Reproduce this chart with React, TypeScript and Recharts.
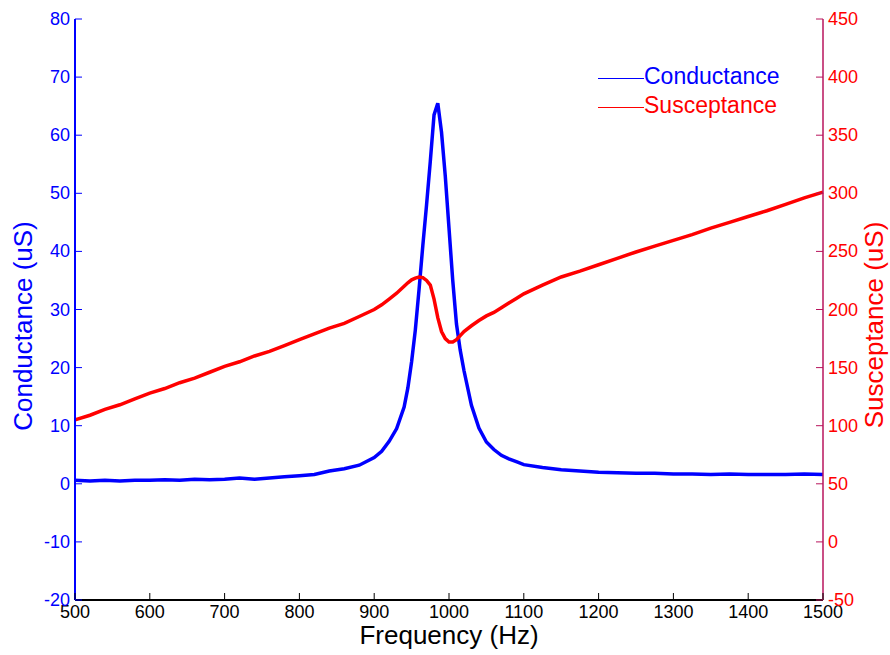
import React from 'react';
import { LineChart, Line, XAxis, YAxis, Legend, Label } from 'recharts';

// frequency points (Hz), denser around the resonance
const frequency = [
  500, 520, 540, 560, 580, 600, 620, 640, 660, 680, 700, 720, 740, 760, 780, 800, 820, 840, 860, 880, 900,
  910, 920, 930, 940,
  945, 950, 955, 960, 965, 970, 975, 980, 985, 990, 995, 1000, 1005, 1010, 1015, 1020,
  1030, 1040, 1050, 1060, 1070, 1080, 1090, 1100,
  1125, 1150, 1175, 1200, 1225, 1250, 1275, 1300, 1325, 1350, 1375, 1400, 1425, 1450, 1475, 1500,
];

const conductance = [
  0.6, 0.5, 0.6, 0.5, 0.6, 0.6, 0.7, 0.6, 0.8, 0.7, 0.8, 1.0, 0.8, 1.0, 1.2, 1.4, 1.6, 2.2, 2.6, 3.2, 4.5,
  5.6, 7.3, 9.5, 13.2,
  16.5, 21, 26.5, 33.5, 41, 48, 55.5, 63.5, 65.5, 60.5, 53, 44, 35, 27.5, 23, 19.5,
  13.5, 9.6, 7.2, 5.9, 4.9, 4.3, 3.8, 3.3,
  2.8, 2.4, 2.2, 2.0, 1.9, 1.8, 1.8, 1.7, 1.7, 1.6, 1.7, 1.6, 1.6, 1.6, 1.7, 1.6,
];

const susceptance = [
  105, 109, 114, 118, 123, 128, 132, 137, 141, 146, 151, 155, 160, 164, 169, 174, 179, 184, 188, 194, 200,
  204, 209, 214, 220,
  223, 225.5, 227, 228, 227.5, 225, 221, 209, 193, 181, 175, 172, 172, 174, 177.5, 181,
  186, 190.5, 194.5, 197.5, 201.5, 205.5, 209.5, 213.5,
  221, 228, 233, 238.5, 244, 249.5, 254.5, 259.5, 264.5, 270, 275, 280, 285, 290.5, 296, 301,
];

const xTicks = [500, 600, 700, 800, 900, 1000, 1100, 1200, 1300, 1400, 1500];
const leftTicks = [-20, -10, 0, 10, 20, 30, 40, 50, 60, 70, 80];
const rightTicks = [-50, 0, 50, 100, 150, 200, 250, 300, 350, 400, 450];

const seriesNames = ['Conductance', 'Susceptance'];

const BLUE = '#0000ff';
const RED = '#ff0000';
const RIGHT_AXIS = '#b8145c';
const FONT = '"Liberation Sans", Arial, sans-serif';

const data = frequency.map((f, i) => ({ f, g: conductance[i], b: susceptance[i] }));

const BottomTick = ({ x, y, payload }: any) => (
  <g>
    <line x1={x} y1={y} x2={x} y2={y - 7} stroke="#000" />
    <text x={x} y={y + 18} textAnchor="middle" fill="#000" fontSize={18} fontFamily={FONT}>
      {payload.value}
    </text>
  </g>
);

const TopTick = ({ x, y }: any) => <line x1={x} y1={y} x2={x} y2={y + 7} stroke="#000" />;

const LeftTick = ({ x, y, payload }: any) => (
  <g>
    <line x1={x} y1={y} x2={x + 7} y2={y} stroke={BLUE} />
    <text x={x - 5} y={y + 6} textAnchor="end" fill={BLUE} fontSize={18} fontFamily={FONT}>
      {payload.value}
    </text>
  </g>
);

const RightTick = ({ x, y, payload }: any) => (
  <g>
    <line x1={x} y1={y} x2={x - 7} y2={y} stroke={RIGHT_AXIS} />
    <text x={x + 5} y={y + 6} textAnchor="start" fill={RED} fontSize={18} fontFamily={FONT}>
      {payload.value}
    </text>
  </g>
);

const LegendBox = () => (
  <div style={{ fontFamily: FONT, fontSize: 23, lineHeight: '29px' }}>
    {seriesNames.map((name, i) => {
      const color = i === 0 ? BLUE : RED;
      return (
        <div key={name} style={{ display: 'flex', alignItems: 'center', color }}>
          <span style={{ display: 'inline-block', width: 46, borderTop: `1.5px solid ${color}`, marginTop: 3 }} />
          <span>{name}</span>
        </div>
      );
    })}
  </div>
);

export default function App() {
  return (
    <div style={{ position: 'absolute', left: 0, top: 0, width: 890, height: 655, background: '#fff' }}>
      <LineChart width={890} height={655} data={data} margin={{ top: 19, right: 0, bottom: 0, left: 0 }}>
        <XAxis
          dataKey="f"
          type="number"
          domain={[500, 1500]}
          ticks={xTicks}
          interval={0}
          height={55}
          tickSize={0}
          tickMargin={0}
          tickLine={false}
          tick={BottomTick}
          axisLine={{ stroke: '#000', strokeWidth: 2 }}
        >
          <Label
            content={() => (
              <text x={449} y={644} textAnchor="middle" fill="#000" fontSize={26} fontFamily={FONT}>
                Frequency (Hz)
              </text>
            )}
          />
        </XAxis>
        <XAxis
          xAxisId="top"
          orientation="top"
          dataKey="f"
          type="number"
          domain={[500, 1500]}
          ticks={xTicks}
          interval={0}
          height={0}
          tickSize={0}
          tickMargin={0}
          tickLine={false}
          tick={TopTick}
          axisLine={{ stroke: '#000', strokeWidth: 1 }}
        />
        <YAxis
          yAxisId="left"
          type="number"
          domain={[-20, 80]}
          ticks={leftTicks}
          interval={0}
          width={75}
          tickSize={0}
          tickMargin={0}
          tickLine={false}
          tick={LeftTick}
          axisLine={{ stroke: BLUE, strokeWidth: 2 }}
        >
          <Label
            content={() => (
              <text x={32} y={326} transform="rotate(-90, 32, 326)" textAnchor="middle" fill={BLUE} fontSize={26} fontFamily={FONT}>
                Conductance (uS)
              </text>
            )}
          />
        </YAxis>
        <YAxis
          yAxisId="right"
          orientation="right"
          type="number"
          domain={[-50, 450]}
          ticks={rightTicks}
          interval={0}
          width={67}
          tickSize={0}
          tickMargin={0}
          tickLine={false}
          tick={RightTick}
          axisLine={{ stroke: RIGHT_AXIS, strokeWidth: 1.5 }}
        >
          <Label
            content={() => (
              <text x={883} y={325} transform="rotate(-90, 883, 325)" textAnchor="middle" fill={RED} fontSize={26} fontFamily={FONT}>
                Susceptance (uS)
              </text>
            )}
          />
        </YAxis>
        <Legend
          layout="horizontal"
          verticalAlign="middle"
          content={LegendBox}
          wrapperStyle={{ position: 'absolute', left: 598, top: 62, width: 'auto', height: 'auto' }}
        />
        <Line
          yAxisId="left"
          dataKey="g"
          name="Conductance"
          stroke={BLUE}
          strokeWidth={3.5}
          dot={false}
          type="linear"
          isAnimationActive={false}
        />
        <Line
          yAxisId="right"
          dataKey="b"
          name="Susceptance"
          stroke={RED}
          strokeWidth={3.5}
          dot={false}
          type="linear"
          isAnimationActive={false}
        />
      </LineChart>
    </div>
  );
}
